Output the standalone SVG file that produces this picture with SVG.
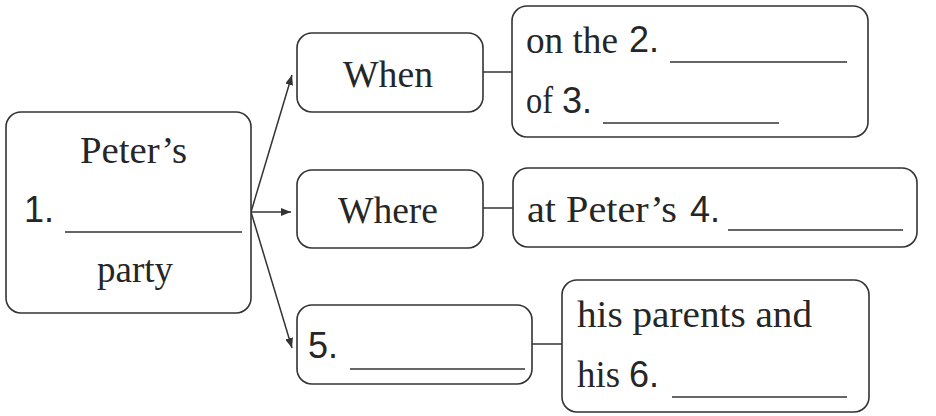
<svg xmlns="http://www.w3.org/2000/svg" width="936" height="416" viewBox="0 0 936 416">
<style>
.box{fill:#fff;stroke:#333;stroke-width:1.6}
.ln{stroke:#333;stroke-width:1.5;fill:none}
.ul{stroke:#333;stroke-width:1.6}
.s{font-family:"Liberation Serif","Times New Roman",serif;font-size:37px;fill:#262626}
.n{font-family:"Liberation Sans",Arial,sans-serif;font-size:36px;fill:#262626}
</style>
<defs>
<marker id="ah" viewBox="0 0 10 8" refX="10" refY="4" markerWidth="10" markerHeight="8" markerUnits="userSpaceOnUse" orient="auto">
<path d="M0,0 L10,4 L0,8 z" fill="#333"/>
</marker>
</defs>
<rect width="936" height="416" fill="#fff"/>
<g id="connectors">
<line class="ln" x1="251" y1="212" x2="292" y2="75" marker-end="url(#ah)"/>
<line class="ln" x1="251" y1="212" x2="291" y2="212" marker-end="url(#ah)"/>
<line class="ln" x1="251" y1="212" x2="292" y2="348" marker-end="url(#ah)"/>
<line class="ln" x1="483" y1="72" x2="512" y2="72"/>
<line class="ln" x1="483" y1="208" x2="513" y2="208"/>
<line class="ln" x1="532" y1="344" x2="562" y2="344"/>
</g>
<g id="party">
<rect class="box" x="6" y="112" width="245" height="201" rx="15"/>
<text class="s" x="80" y="163" textLength="107" lengthAdjust="spacingAndGlyphs">Peter’s</text>
<text class="n" x="24" y="222">1.</text>
<line class="ul" x1="65" y1="232" x2="242" y2="232"/>
<text class="s" x="97" y="282" textLength="76" lengthAdjust="spacingAndGlyphs">party</text>
</g>
<g id="when">
<rect class="box" x="297" y="33" width="186" height="79" rx="15"/>
<text class="s" x="343" y="87" textLength="90" lengthAdjust="spacingAndGlyphs">When</text>
</g>
<g id="where">
<rect class="box" x="297" y="170" width="186" height="78" rx="15"/>
<text class="s" x="338" y="223" textLength="100" lengthAdjust="spacingAndGlyphs">Where</text>
</g>
<g id="who">
<rect class="box" x="297" y="305" width="235" height="79" rx="15"/>
<text class="n" x="308" y="358">5.</text>
<line class="ul" x1="350" y1="369" x2="525" y2="369"/>
</g>
<g id="date">
<rect class="box" x="512" y="6" width="356" height="131" rx="15"/>
<text class="s" x="526" y="53" textLength="92" lengthAdjust="spacingAndGlyphs">on the</text>
<text class="n" x="629" y="52">2.</text>
<line class="ul" x1="670" y1="62" x2="847" y2="62"/>
<text class="s" x="526" y="113" textLength="27" lengthAdjust="spacingAndGlyphs">of</text>
<text class="n" x="562" y="113">3.</text>
<line class="ul" x1="603" y1="123" x2="779" y2="123"/>
</g>
<g id="place">
<rect class="box" x="513" y="168" width="404" height="79" rx="15"/>
<text class="s" x="527" y="222" textLength="150" lengthAdjust="spacingAndGlyphs">at Peter’s</text>
<text class="n" x="690" y="222">4.</text>
<line class="ul" x1="728" y1="230" x2="903" y2="230"/>
</g>
<g id="guests">
<rect class="box" x="562" y="280" width="307" height="132" rx="15"/>
<text class="s" x="577" y="327" textLength="235" lengthAdjust="spacingAndGlyphs">his parents and</text>
<text class="s" x="577" y="387" textLength="43" lengthAdjust="spacingAndGlyphs">his</text>
<text class="n" x="629" y="387">6.</text>
<line class="ul" x1="672" y1="397" x2="847" y2="397"/>
</g>
</svg>
